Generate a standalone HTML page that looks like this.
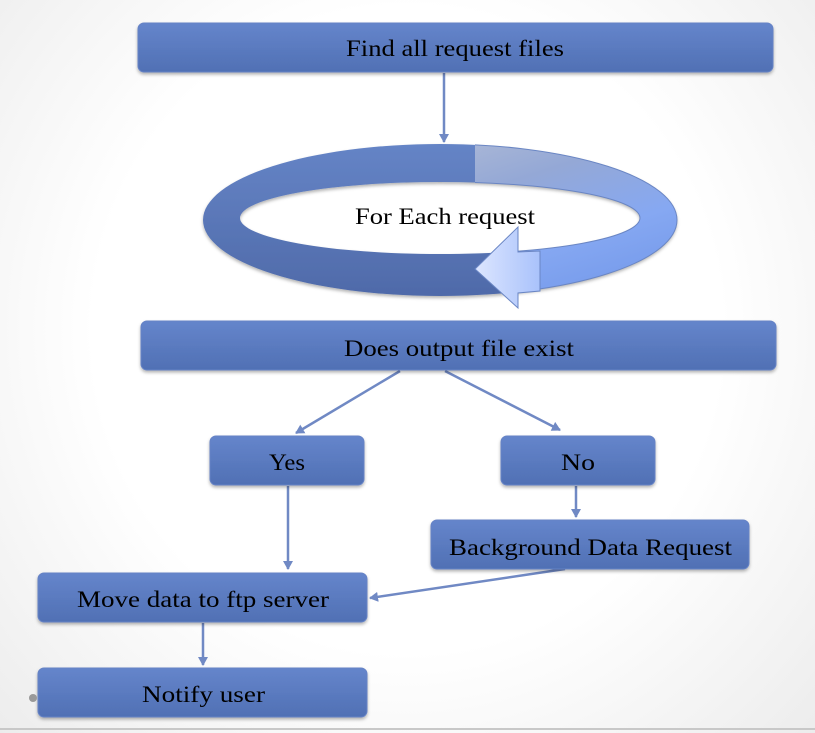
<!DOCTYPE html>
<html><head><meta charset="utf-8"><style>
html,body{margin:0;padding:0;}
body{width:815px;height:733px;overflow:hidden;background:radial-gradient(ellipse 70% 80% at 50% 45%,#ffffff 55%,#ececec 100%);}
</style></head><body>
<svg width="815" height="733" xmlns="http://www.w3.org/2000/svg" style="position:absolute;left:0;top:0">
<defs>
<linearGradient id="bx" x1="0" y1="0" x2="0" y2="1">
<stop offset="0" stop-color="#6585cb"/><stop offset="1" stop-color="#5070b4"/></linearGradient>
<linearGradient id="rg" x1="0" y1="0" x2="0" y2="1">
<stop offset="0" stop-color="#6584c6"/><stop offset="1" stop-color="#4f6aa9"/></linearGradient>
<linearGradient id="lt" x1="0" y1="0" x2="1" y2="1">
<stop offset="0" stop-color="#c8ccd8"/><stop offset="0.45" stop-color="#94a8d6"/><stop offset="0.7" stop-color="#86a8f2"/><stop offset="1" stop-color="#6f95e8"/></linearGradient>
<linearGradient id="ah" x1="0" y1="0" x2="1" y2="0">
<stop offset="0" stop-color="#dde6ff"/><stop offset="1" stop-color="#a9c2fb"/></linearGradient>
<clipPath id="cl"><polygon points="475,130 700,130 700,320 518,320 518,240 475,240"/></clipPath>
<filter id="sh" x="-10%" y="-10%" width="120%" height="140%"><feDropShadow dx="0" dy="2" stdDeviation="1.5" flood-color="#000" flood-opacity="0.3"/></filter>
<marker id="ar" markerWidth="10" markerHeight="10" refX="8" refY="5" orient="auto" markerUnits="userSpaceOnUse"><path d="M0,0 L9,5 L0,10 Z" fill="#7089c4"/></marker>
</defs>
<line x1="0" y1="729" x2="815" y2="729" stroke="#c8c8c8" stroke-width="2"/>
<g stroke="#7089c4" stroke-width="2.5" fill="none" marker-end="url(#ar)">
<line x1="444" y1="73" x2="444" y2="142"/>
<line x1="400" y1="371" x2="296" y2="433"/>
<line x1="445" y1="371" x2="560" y2="430"/>
<line x1="576" y1="486" x2="576" y2="517"/>
<line x1="288" y1="486" x2="288" y2="569"/>
<line x1="565" y1="569" x2="370" y2="598"/>
<line x1="203" y1="623" x2="203" y2="665"/>
</g>
<g filter="url(#sh)">
<path fill-rule="evenodd" fill="url(#rg)" d="M203,220 a237,76 0 1,0 474,0 a237,76 0 1,0 -474,0 Z M240,218 a200,36 0 1,0 400,0 a200,36 0 1,0 -400,0 Z"/>
</g>
<path clip-path="url(#cl)" fill-rule="evenodd" fill="url(#lt)" stroke="#6a86c4" stroke-width="1" d="M203,220 a237,76 0 1,0 474,0 a237,76 0 1,0 -474,0 Z M240,218 a200,36 0 1,0 400,0 a200,36 0 1,0 -400,0 Z"/>
<polygon points="475,269 518,227 518,252 540,251 540,291 518,293 518,308" fill="url(#ah)" stroke="#6a86c4" stroke-width="1"/>
<g filter="url(#sh)" fill="url(#bx)" stroke="#6683c6" stroke-width="1">
<rect x="138" y="23" width="635" height="49" rx="6"/>
<rect x="141" y="321" width="635" height="49" rx="6"/>
<rect x="210" y="436" width="154" height="49" rx="6"/>
<rect x="501" y="436" width="154" height="49" rx="6"/>
<rect x="431" y="520" width="318" height="49" rx="6"/>
<rect x="38" y="573" width="329" height="49" rx="6"/>
<rect x="38" y="668" width="329" height="49" rx="6"/>
</g>
<circle cx="33" cy="698" r="4" fill="#999"/>
<g font-family="Liberation Serif, serif" font-size="23" fill="#000" lengthAdjust="spacingAndGlyphs">
<text x="346" y="56" textLength="218" lengthAdjust="spacingAndGlyphs">Find all request files</text>
<text x="355" y="224" textLength="180" lengthAdjust="spacingAndGlyphs">For Each request</text>
<text x="344" y="356" textLength="230" lengthAdjust="spacingAndGlyphs">Does output file exist</text>
<text x="269" y="470" textLength="36" lengthAdjust="spacingAndGlyphs">Yes</text>
<text x="561" y="470" textLength="34" lengthAdjust="spacingAndGlyphs">No</text>
<text x="449" y="555" textLength="283" lengthAdjust="spacingAndGlyphs">Background Data Request</text>
<text x="77" y="607" textLength="252" lengthAdjust="spacingAndGlyphs">Move data to ftp server</text>
<text x="142" y="702" textLength="123" lengthAdjust="spacingAndGlyphs">Notify user</text>
</g>
</svg>
</body></html>
